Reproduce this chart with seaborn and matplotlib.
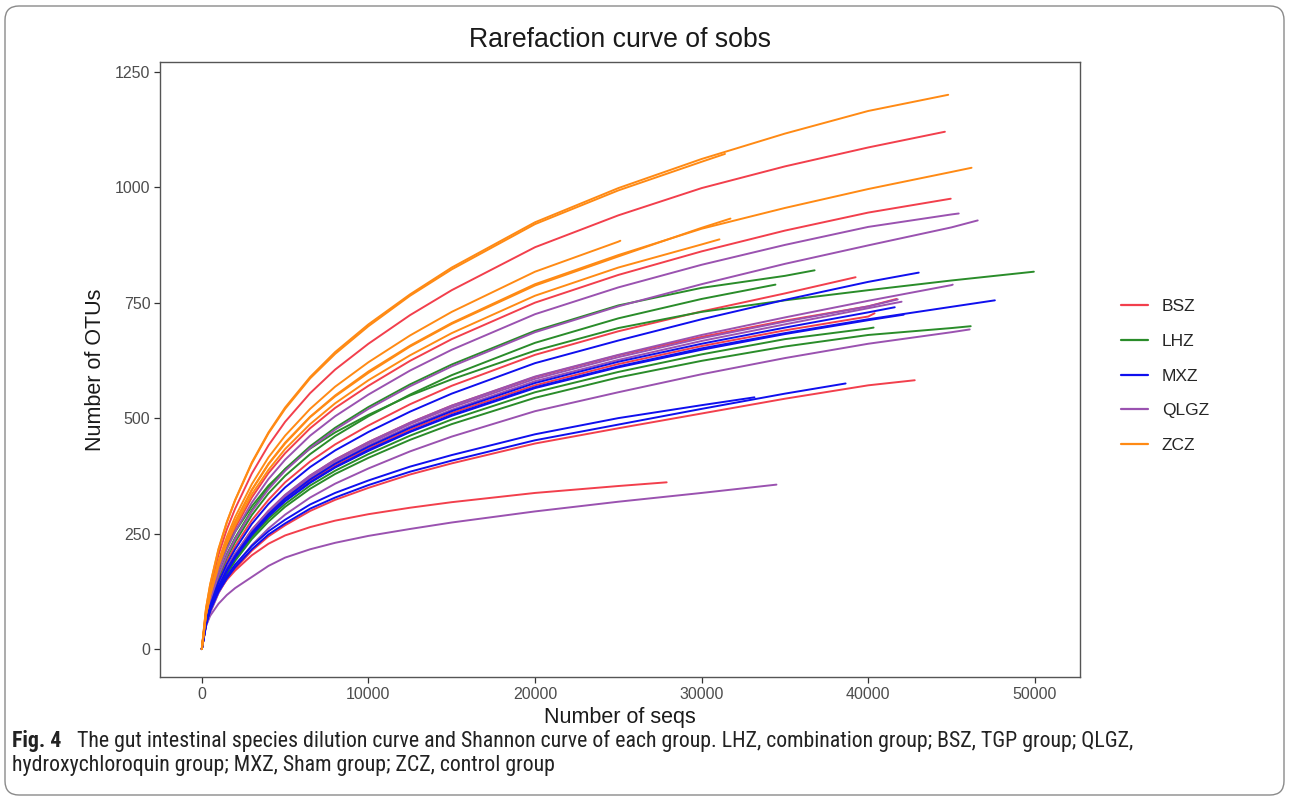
import matplotlib
matplotlib.use("Agg")
import matplotlib.pyplot as plt
import matplotlib.colors as mcolors
import pandas as pd
import seaborn as sns
from matplotlib.patches import FancyBboxPatch
from matplotlib import font_manager

# ---------------- data ----------------
SEQS = [0, 250, 500, 1000, 1500, 2000, 3000, 4000, 5000, 6500, 8000,
        10000, 12500, 15000, 20000, 25000, 30000, 35000, 40000, 45000]

GROUPS = ["BSZ", "LHZ", "MXZ", "QLGZ", "ZCZ"]
COLORS = ["#F23F4C", "#2A8C2A", "#0F0FEE", "#9A52B0", "#FF8A14"]

XTICKS = [0, 10000, 20000, 30000, 40000, 50000]
YTICKS = [0, 250, 500, 750, 1000, 1250]

# BSZ
BSZ_END = [44600, 44950, 39240, 41700, 40380, 42790, 27900]
BSZ_1 = [0, 83, 131, 204, 259, 304, 380, 441, 492, 554, 605, 661, 723, 777, 870, 939, 998, 1045, 1086, 1120]
BSZ_2 = [0, 71, 113, 176, 224, 262, 328, 381, 424, 478, 522, 570, 624, 671, 750, 810, 861, 906, 945, 975]
BSZ_3 = [0, 61, 96, 149, 190, 223, 279, 323, 361, 406, 443, 484, 530, 570, 637, 688, 731, 770, 805]
BSZ_4 = [0, 56, 89, 138, 176, 206, 258, 299, 333, 375, 410, 448, 490, 527, 589, 636, 676, 711, 742, 758]
BSZ_5 = [0, 54, 86, 134, 170, 200, 250, 290, 323, 364, 397, 434, 475, 511, 571, 617, 656, 690, 720, 727]
BSZ_6 = [0, 53, 81, 122, 151, 174, 213, 244, 268, 299, 323, 349, 378, 402, 445, 478, 510, 542, 571, 582]
BSZ_7 = [0, 60, 90, 125, 150, 170, 203, 228, 246, 264, 278, 292, 306, 318, 338, 353, 361]

# LHZ
LHZ_END = [36780, 34430, 49940, 40320, 46150]
LHZ_1 = [0, 65, 104, 161, 205, 241, 301, 350, 390, 439, 479, 524, 573, 616, 689, 744, 782, 808, 820]
LHZ_2 = [0, 63, 100, 155, 198, 232, 290, 337, 375, 422, 461, 504, 551, 593, 663, 716, 758, 789]
LHZ_3 = [0, 76, 118, 177, 219, 254, 309, 354, 389, 434, 469, 507, 549, 584, 646, 695, 730, 755, 777, 798, 817]
LHZ_4 = [0, 53, 84, 130, 166, 194, 243, 282, 314, 354, 386, 422, 462, 497, 556, 600, 638, 671, 694, 696]
LHZ_5 = [0, 52, 82, 128, 162, 191, 238, 276, 308, 347, 379, 414, 453, 487, 544, 588, 624, 655, 680, 695, 699]

# MXZ
MXZ_END = [43030, 47600, 41590, 42130, 38640, 33170]
MXZ_1 = [0, 59, 94, 145, 184, 216, 271, 314, 350, 394, 430, 470, 514, 553, 619, 668, 714, 756, 795, 815]
MXZ_2 = [0, 54, 86, 133, 169, 198, 248, 288, 321, 361, 394, 431, 471, 507, 567, 612, 651, 684, 714, 741, 755]
MXZ_3 = [0, 55, 87, 135, 172, 202, 252, 292, 326, 367, 401, 438, 479, 515, 576, 622, 661, 696, 729, 740]
MXZ_4 = [0, 54, 85, 132, 168, 198, 247, 287, 320, 360, 393, 429, 470, 505, 565, 610, 648, 682, 712, 724]
MXZ_5 = [0, 53, 83, 124, 153, 177, 216, 248, 272, 304, 328, 355, 384, 408, 452, 486, 520, 553, 575]
MXZ_6 = [0, 55, 85, 128, 158, 183, 223, 255, 280, 313, 338, 365, 395, 420, 465, 500, 528, 545]

# QLGZ
QLGZ_END = [45430, 46570, 45070, 41770, 46090, 34490, 42000]
QLGZ_1 = [0, 69, 110, 170, 216, 254, 317, 368, 410, 462, 504, 551, 603, 648, 725, 783, 832, 875, 914, 941, 943]
QLGZ_2 = [0, 64, 102, 159, 202, 238, 298, 346, 386, 435, 475, 520, 569, 612, 686, 742, 790, 834, 874, 913, 928]
QLGZ_3 = [0, 56, 89, 138, 176, 206, 258, 299, 334, 376, 410, 448, 490, 527, 590, 637, 680, 718, 754, 788, 789]
QLGZ_4 = [0, 56, 88, 137, 174, 205, 256, 297, 331, 373, 407, 445, 487, 523, 585, 632, 673, 709, 742, 757]
QLGZ_5 = [0, 49, 78, 121, 153, 180, 225, 261, 291, 328, 358, 391, 428, 460, 515, 556, 595, 630, 661, 686, 692]
QLGZ_6 = [0, 50, 72, 98, 117, 132, 156, 180, 198, 216, 230, 245, 260, 274, 298, 319, 338, 356]
QLGZ_7 = [0, 55, 88, 136, 173, 203, 254, 294, 328, 369, 403, 441, 482, 518, 580, 626, 667, 703, 738, 752]

# ZCZ
ZCZ_END = [44800, 31400, 46200, 31730, 31070, 25120]
ZCZ_1 = [0, 88, 140, 217, 275, 323, 404, 469, 523, 589, 643, 703, 768, 826, 924, 998, 1061, 1116, 1165, 1200]
ZCZ_2 = [0, 87, 139, 215, 274, 322, 402, 467, 520, 586, 639, 699, 765, 822, 920, 993, 1055, 1072]
ZCZ_3 = [0, 75, 119, 185, 235, 276, 345, 401, 447, 503, 549, 601, 657, 706, 790, 853, 910, 955, 996, 1033, 1042]
ZCZ_4 = [0, 75, 119, 184, 235, 275, 344, 400, 445, 502, 547, 598, 655, 704, 787, 850, 912, 932]
ZCZ_5 = [0, 73, 116, 179, 228, 268, 335, 388, 433, 487, 532, 582, 636, 684, 765, 826, 876, 887]
ZCZ_6 = [0, 78, 123, 191, 243, 286, 357, 415, 462, 520, 568, 621, 679, 730, 817, 882, 884]

CAPTION_BOLD = "Fig. 4"
CAPTION_1 = ("The gut intestinal species dilution curve and Shannon curve of each group. "
             "LHZ, combination group; BSZ, TGP group; QLGZ,")
CAPTION_2 = "hydroxychloroquin group; MXZ, Sham group; ZCZ, control group"

# ---------------- build long table ----------------
group_data = {
    "BSZ": (BSZ_END, [BSZ_1, BSZ_2, BSZ_3, BSZ_4, BSZ_5, BSZ_6, BSZ_7]),
    "LHZ": (LHZ_END, [LHZ_1, LHZ_2, LHZ_3, LHZ_4, LHZ_5]),
    "MXZ": (MXZ_END, [MXZ_1, MXZ_2, MXZ_3, MXZ_4, MXZ_5, MXZ_6]),
    "QLGZ": (QLGZ_END, [QLGZ_1, QLGZ_2, QLGZ_3, QLGZ_4, QLGZ_5, QLGZ_6, QLGZ_7]),
    "ZCZ": (ZCZ_END, [ZCZ_1, ZCZ_2, ZCZ_3, ZCZ_4, ZCZ_5, ZCZ_6]),
}
rows = []
for g in GROUPS:
    ends, curves = group_data[g]
    for i, (end, ys) in enumerate(zip(ends, curves)):
        xs = [s for s in SEQS if s < end] + [end]
        assert len(xs) == len(ys), (g, i, len(xs), len(ys))
        for x, y in zip(xs, ys):
            rows.append((g, f"{g}{i + 1}", x, y))
df = pd.DataFrame(rows, columns=["group", "sample", "seqs", "sobs"])

# ---------------- plot ----------------
sns.set_theme(style="white")
plt.rcParams["font.family"] = ["Liberation Sans", "DejaVu Sans"]

W, H = 1290, 799
fig = plt.figure(figsize=(W / 100, H / 100), dpi=100)
fig.patch.set_facecolor("white")

ax = fig.add_axes([160 / W, 1 - 677 / H, 920 / W, 615 / H])
sns.lineplot(data=df, x="seqs", y="sobs", hue="group", units="sample",
             estimator=None, sort=False, hue_order=GROUPS,
             palette=dict(zip(GROUPS, COLORS)), linewidth=1.4, ax=ax)

# draw order: blue curves above purple/green/red ones, orange on top
zmap = {mcolors.to_hex(COLORS[0]): 2.0, mcolors.to_hex(COLORS[1]): 2.1,
        mcolors.to_hex(COLORS[3]): 2.2, mcolors.to_hex(COLORS[2]): 2.3,
        mcolors.to_hex(COLORS[4]): 2.4}
for ln in ax.lines:
    c = mcolors.to_hex(ln.get_color())
    if c in zmap:
        ln.set_zorder(zmap[c])

ax.set_xlim(-2510, 52710)
ax.set_ylim(-60.5, 1271)
ax.set_xticks(XTICKS)
ax.set_xticklabels([str(t) for t in XTICKS])
ax.set_yticks(YTICKS)
ax.set_yticklabels([str(t) for t in YTICKS])
ax.tick_params(axis="both", bottom=True, left=True, length=4, width=0.9,
               color="#333333", labelcolor="#4D4D4D", labelsize=11.5, pad=3)
for s in ax.spines.values():
    s.set_color("#555555")
    s.set_linewidth(1.0)
    s.set_zorder(3)
ax.set_xlabel("")
ax.set_ylabel("")

handles, labels = ax.get_legend_handles_labels()
ax.legend_.remove()
for h in handles:
    h.set_linewidth(1.6)
fig.legend(handles, labels, loc="center left",
           bbox_to_anchor=(1121 / W, 1 - 376 / H), frameon=False,
           fontsize=12.5, handlelength=1.55, handletextpad=0.8,
           labelspacing=1.13, borderpad=0, borderaxespad=0)

fig.text(620 / W, 1 - 40 / H, "Rarefaction curve of sobs", ha="center",
         va="center", fontsize=19.2, color="#1a1a1a")
fig.text(620 / W, 1 - 718 / H, "Number of seqs", ha="center", va="center",
         fontsize=15.5, color="#1a1a1a")
fig.text(95 / W, 1 - 370 / H, "Number of OTUs", ha="center", va="center",
         rotation=90, fontsize=15.5, color="#1a1a1a")

# caption font
avail = {f.name for f in font_manager.fontManager.ttflist}
cap_font = next((f for f in ["Liberation Sans Narrow", "Roboto Condensed",
                             "Open Sans", "Noto Sans"] if f in avail), "DejaVu Sans")

# outer rounded frame
frame = FancyBboxPatch((5, 4), 1279, 789,
                       boxstyle="round,pad=0,rounding_size=14",
                       transform=None, facecolor="none",
                       edgecolor="#8a8a8a", linewidth=1.0)
fig.add_artist(frame)

renderer = fig.canvas.get_renderer()
cap_size = 12.0
tb = fig.text(12 / W, 1 - 741 / H, CAPTION_BOLD, ha="left", va="center",
              fontsize=cap_size, fontweight="bold", family=cap_font, color="#222222")
t1 = fig.text(0, 1 - 741 / H, CAPTION_1, ha="left", va="center",
              fontsize=cap_size, family=cap_font, color="#222222")
bb = tb.get_window_extent(renderer)
w1 = t1.get_window_extent(renderer).width
total = bb.width + 12 + w1
scale = (1135 - 12) / total
cap_size *= scale
tb.set_fontsize(cap_size)
t1.set_fontsize(cap_size)
bb = tb.get_window_extent(renderer)
t1.set_x((bb.x1 + 12 * scale) / W)
fig.text(12 / W, 1 - 766 / H, CAPTION_2, ha="left", va="center",
         fontsize=cap_size, family=cap_font, color="#222222")

fig.savefig("out.png", dpi=100, facecolor="white")
